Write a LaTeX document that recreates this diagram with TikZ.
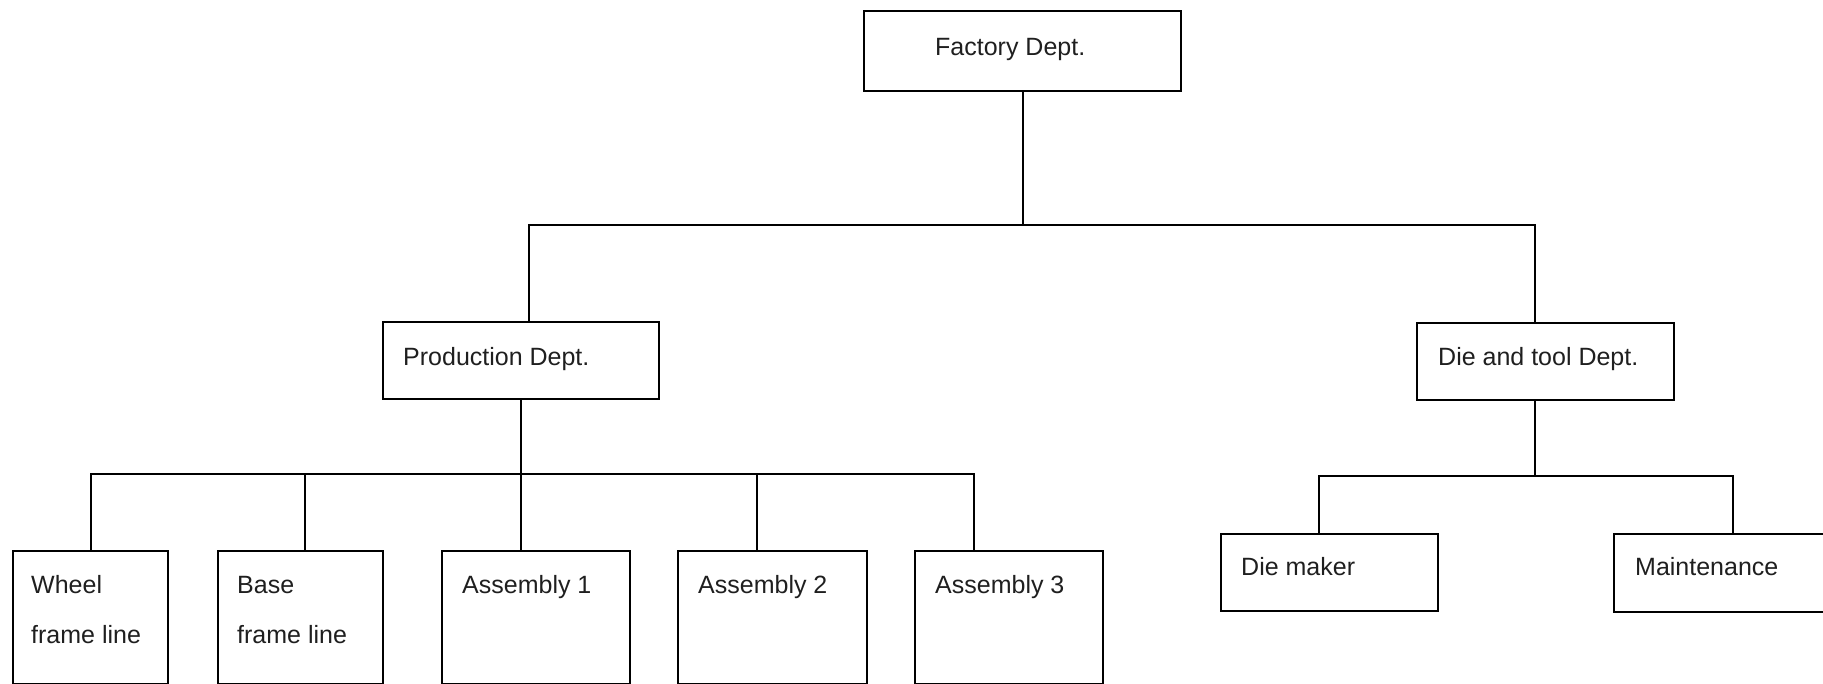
\documentclass[tikz,border=0pt]{standalone}
\usepackage{fontspec}
\setmainfont{Liberation Sans}
\begin{document}
\begin{tikzpicture}[x=1pt, y=-1pt,
  box/.style={draw=black, line width=2pt, inner sep=0pt, anchor=north west},
  lbl/.style={font=\fontsize{25}{30}\selectfont, text=black!88, inner sep=0pt, anchor=base west},
  link/.style={draw=black, line width=2pt}]
\useasboundingbox (0,0) rectangle (1823,683);
\clip (0,0) rectangle (1823,683);

% --- boxes ---
\node[box, minimum width=317pt, minimum height=80pt] (factory) at (863,10) {};
\node[box, minimum width=276pt, minimum height=77pt] (prod) at (382,321) {};
\node[box, minimum width=257pt, minimum height=77pt] (die) at (1416,322) {};

\node[box, minimum width=155pt, minimum height=133pt] (wheel) at (12,550) {};
\node[box, minimum width=165pt, minimum height=133pt] (base) at (217,550) {};
\node[box, minimum width=188pt, minimum height=133pt] (asm1) at (441,550) {};
\node[box, minimum width=189pt, minimum height=133pt] (asm2) at (677,550) {};
\node[box, minimum width=188pt, minimum height=133pt] (asm3) at (914,550) {};

\node[box, minimum width=217pt, minimum height=77pt] (diemaker) at (1220,533) {};
\node[box, minimum width=217pt, minimum height=78pt] (maint) at (1613,533) {};

% --- labels ---
\node[lbl] (tfactory) at (935,55) {Factory Dept.};
\node[lbl] (tprod) at (403,365) {Production Dept.};
\node[lbl] (tdie) at (1438,365) {Die and tool Dept.};
\node[lbl] (twheel) at (31,593) {Wheel};
\node[lbl] (twheelb) at (31,643) {frame line};
\node[lbl] (tbase) at (237,593) {Base};
\node[lbl] (tbaseb) at (237,643) {frame line};
\node[lbl] (tasm1) at (462,593) {Assembly 1};
\node[lbl] (tasm2) at (698,593) {Assembly 2};
\node[lbl] (tasm3) at (935,593) {Assembly 3};
\node[lbl] (tdiemaker) at (1241,575) {Die maker};
\node[lbl] (tmaint) at (1635,575) {Maintenance};

% --- bus lines ---
\coordinate (topbar) at (0,225);
\coordinate (prodbar) at (0,474);
\coordinate (diebar) at (0,476);

% attachment points on the box edges
\coordinate (prodin) at ([xshift=8pt]prod.north);
\coordinate (diein) at ([xshift=-10.5pt]die.north);
\coordinate (dieout) at ([xshift=-10.5pt]die.south);
\coordinate (basein) at ([xshift=4.5pt]base.north);
\coordinate (asm1in) at ([xshift=-15pt]asm1.north);
\coordinate (asm2in) at ([xshift=-15.5pt]asm2.north);
\coordinate (asm3in) at ([xshift=-35pt]asm3.north);
\coordinate (diemakerin) at ([xshift=-10.5pt]diemaker.north);
\coordinate (maintin) at ([xshift=10.5pt]maint.north);

% --- connectors ---
\draw[link] (factory.south) -- (factory.south |- topbar);
\draw[link] (prodin) -- (prodin |- topbar) -- (diein |- topbar) -- (diein);

\draw[link] (prod.south) -- (prod.south |- prodbar);
\draw[link] (wheel.north) -- (wheel.north |- prodbar) -- (asm3in |- prodbar) -- (asm3in);
\draw[link] (basein |- prodbar) -- (basein);
\draw[link] (asm1in |- prodbar) -- (asm1in);
\draw[link] (asm2in |- prodbar) -- (asm2in);

\draw[link] (dieout) -- (dieout |- diebar);
\draw[link] (diemakerin) -- (diemakerin |- diebar) -- (maintin |- diebar) -- (maintin);
\end{tikzpicture}
\end{document}
